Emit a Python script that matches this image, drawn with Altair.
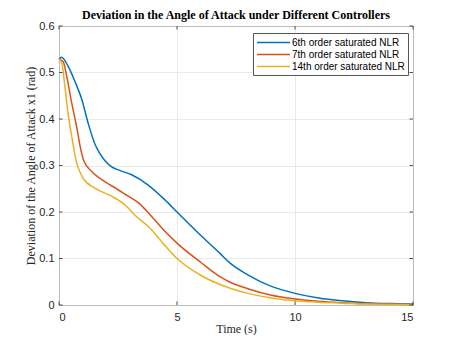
import altair as alt
import pandas as pd

series_names = ["6th order saturated NLR", "7th order saturated NLR", "14th order saturated NLR"]
colors = ["#0072BD", "#D95319", "#EDB120"]

t_6 = [0, 0.11, 0.39, 0.68, 0.96, 1.24, 1.53, 1.74, 1.95, 2.2, 2.6, 3.08, 3.78, 4.49, 5.0, 6.0, 6.82, 7.25, 8, 9, 10, 11, 12, 13, 14, 15]
y_6 = [0.529, 0.533, 0.513, 0.48, 0.443, 0.39, 0.345, 0.325, 0.31, 0.298, 0.289, 0.28, 0.258, 0.226, 0.2, 0.15, 0.111, 0.09, 0.065, 0.04, 0.025, 0.015, 0.009, 0.005, 0.003, 0.002]

t_7 = [0, 0.18, 0.33, 0.54, 0.75, 0.9, 1.05, 1.39, 1.95, 2.44, 2.9, 3.36, 4.0, 4.5, 5.0, 6.0, 6.82, 7.25, 8, 9, 10, 11, 12, 13, 15]
y_7 = [0.529, 0.523, 0.491, 0.434, 0.383, 0.34, 0.31, 0.287, 0.265, 0.25, 0.235, 0.22, 0.186, 0.158, 0.133, 0.092, 0.061, 0.049, 0.035, 0.021, 0.013, 0.008, 0.005, 0.003, 0.001]

t_14 = [0, 0.11, 0.25, 0.39, 0.47, 0.54, 0.65, 0.75, 0.9, 1.03, 1.53, 2.23, 2.8, 3.22, 3.86, 4.4, 5.0, 6.0, 6.82, 7.25, 8, 9, 10, 11, 12, 13, 15]
y_14 = [0.529, 0.522, 0.47, 0.41, 0.383, 0.362, 0.33, 0.305, 0.285, 0.272, 0.251, 0.234, 0.215, 0.193, 0.165, 0.133, 0.1, 0.064, 0.044, 0.036, 0.025, 0.015, 0.009, 0.006, 0.004, 0.002, 0.001]

x_ticks = [0, 5, 10, 15]
y_ticks = [0, 0.1, 0.2, 0.3, 0.4, 0.5, 0.6]

W, H = 354, 279

rows = []
for name, ts, ys in zip(series_names, [t_6, t_7, t_14], [y_6, y_7, y_14]):
    for t, y in zip(ts, ys):
        rows.append({"t": t, "y": y, "series": name})
df = pd.DataFrame(rows)

xscale = alt.Scale(domain=[0, 15], nice=False, zero=False)
yscale = alt.Scale(domain=[0, 0.6], nice=False)

lines = alt.Chart(df).mark_line(strokeWidth=1.5, interpolate="monotone").encode(
    x=alt.X("t:Q", scale=xscale,
            axis=alt.Axis(values=x_ticks, title="Time (s)", grid=True, ticks=False, domain=False,
                          labelPadding=6, titleX=W / 2, titleY=27, titleBaseline="alphabetic")),
    y=alt.Y("y:Q", scale=yscale,
            axis=alt.Axis(values=y_ticks, title="Deviation of the Angle of Attack x1 (rad)", grid=True,
                          ticks=False, domain=False, labelPadding=5, format="~g",
                          titleX=-29, titleY=H / 2, titleAngle=-90, titleBaseline="middle")),
    color=alt.Color("series:N",
                    scale=alt.Scale(domain=series_names, range=colors),
                    legend=alt.Legend(title=None, orient="none", legendX=194, legendY=7,
                                      symbolType="M-1,0H5", symbolSize=121, symbolStrokeWidth=1.5,
                                      labelFont="Liberation Sans", labelFontSize=10, labelColor="#000000",
                                      labelOffset=23, padding=3, rowPadding=0,
                                      strokeColor="#555555", fillColor="#ffffff")),
)

xt = pd.DataFrame({"v": x_ticks})
yt = pd.DataFrame({"v": y_ticks})

tick_len = 3.5
xb = alt.Chart(xt).mark_rule(color="#262626", strokeWidth=0.8).encode(
    x=alt.X("v:Q", scale=xscale), y=alt.value(H), y2=alt.value(H - tick_len))
xtp = alt.Chart(xt).mark_rule(color="#262626", strokeWidth=0.8).encode(
    x=alt.X("v:Q", scale=xscale), y=alt.value(0), y2=alt.value(tick_len))
yl = alt.Chart(yt).mark_rule(color="#262626", strokeWidth=0.8).encode(
    y=alt.Y("v:Q", scale=yscale), x=alt.value(0), x2=alt.value(tick_len))
yr = alt.Chart(yt).mark_rule(color="#262626", strokeWidth=0.8).encode(
    y=alt.Y("v:Q", scale=yscale), x=alt.value(W), x2=alt.value(W - tick_len))

chart = alt.layer(lines, xb, xtp, yl, yr).properties(
    width=W, height=H,
    title=alt.TitleParams("Deviation in the Angle of Attack under Different Controllers",
                          font="Liberation Serif", fontSize=12, fontWeight="bold", color="#000000",
                          anchor="middle", frame="group", offset=-1.5),
    autosize=alt.AutoSizeParams(type="none"),
    padding={"left": 51, "top": 18, "right": 36, "bottom": 30},
).configure_axis(
    labelFont="Liberation Sans", labelFontSize=11, labelColor="#262626",
    titleFont="Liberation Serif", titleFontSize=12, titleFontWeight="normal", titleColor="#262626",
    gridColor="#e3e3e3", gridWidth=0.8,
).configure_view(stroke="#262626", strokeWidth=1)

chart.save("out.html", embed_options={"renderer": "svg", "actions": False})
